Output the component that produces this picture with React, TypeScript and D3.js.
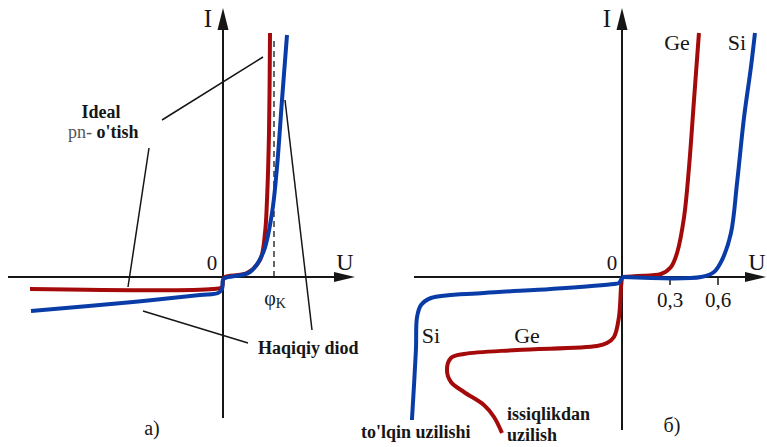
import * as d3 from "d3";

// panel a) - ideal pn junction vs real diode, [U, I]
const idealPn: [number, number][] = [
  [-1.93, -1.2], [-0.1, -1.2], [-0.01, -1.0], [0, -0.3], [0.02, 0],
  [0.24, 0.4], [0.37, 1.7], [0.42, 4.4], [0.44, 7.7], [0.46, 14.4], [0.47, 24.4],
];
const realDiode: [number, number][] = [
  [-1.92, -3.4], [-0.9, -2.5], [-0.23, -1.8], [-0.05, -1.6], [-0.01, -1.2], [0, -0.3],
  [0.02, -0.1], [0.27, 0.5], [0.4, 2.4], [0.49, 6.4], [0.54, 11.0], [0.59, 17.7], [0.64, 24.2],
];
const phiK = 0.51;
const phiKTop = 23.9;
// leader lines for the labels, [u1, i1, u2, i2]
const leadersA: [number, number, number, number][] = [
  [-0.61, 15.7, 0.4, 22.0],
  [-0.74, 12.9, -0.95, -1.0],
  [-0.8, -3.4, 0.25, -6.6],
  [0.62, 17.7, 0.89, -5.3],
];

// panel б) - Ge and Si diodes
const geForward: [number, number][] = [
  [0, 0], [0.094, 0.1], [0.244, 0.3], [0.306, 1.0], [0.344, 2.4],
  [0.388, 6.0], [0.419, 11.0], [0.45, 17.7], [0.481, 24.4],
];
const siForward: [number, number][] = [
  [0, 0], [0.494, 0], [0.575, 0.5], [0.625, 1.7], [0.681, 4.4],
  [0.719, 9.4], [0.763, 16.0], [0.806, 21.0], [0.831, 24.4],
];
const siReverse: [number, number][] = [
  [0, 0], [-0.019, -0.6], [-0.05, -0.7], [-0.444, -1.2], [-0.863, -1.6],
  [-1.194, -2.1], [-1.256, -2.8], [-1.281, -4.0], [-1.288, -7.3], [-1.313, -14.3],
];
const geReverse: [number, number][] = [
  [0, 0], [-0.006, -1.0], [-0.019, -4.0], [-0.05, -6.0], [-0.094, -6.6], [-0.156, -6.9],
  [-0.656, -7.3], [-0.988, -7.7], [-1.069, -8.1], [-1.094, -9.3], [-1.069, -10.5],
  [-0.988, -11.5], [-0.863, -12.8], [-0.8, -14.0], [-0.75, -15.6],
];
const ticksB = [0.3, 0.6];
const tickLabelsB = ["0,3", "0,6"];

const RED = "#a50a0a";
const BLUE = "#0a3ca8";
const INK = "#161616";
const SERIF = "Liberation Serif, DejaVu Serif, serif";

function Axes({ x0, x1, y0, y1, ox, oy }: { x0: number; x1: number; y0: number; y1: number; ox: number; oy: number }) {
  return (
    <g>
      <line x1={x0} y1={oy} x2={x1 - 10} y2={oy} stroke={INK} strokeWidth={2} />
      <path d={`M${x1},${oy} L${x1 - 21},${oy - 5} L${x1 - 21},${oy + 5} Z`} fill={INK} />
      <line x1={ox} y1={y1} x2={ox} y2={y0 + 10} stroke={INK} strokeWidth={2} />
      <path d={`M${ox},${y0} L${ox - 5.5},${y0 + 22} L${ox + 5.5},${y0 + 22} Z`} fill={INK} />
    </g>
  );
}

export default function App() {
  // panel a scales
  const xa = d3.scaleLinear().domain([-2.15, 1.32]).range([8, 355]);
  const ya = d3.scaleLinear().domain([-14.1, 26.7]).range([418, 10]);
  // panel b scales
  const xb = d3.scaleLinear().domain([-1.3, 0.9]).range([414, 766]);
  const yb = d3.scaleLinear().domain([-15.3, 26.7]).range([430, 10]);

  const lineA = d3.line<[number, number]>().x((d) => xa(d[0])).y((d) => ya(d[1])).curve(d3.curveCatmullRom.alpha(0.5));
  const lineB = d3.line<[number, number]>().x((d) => xb(d[0])).y((d) => yb(d[1])).curve(d3.curveCatmullRom.alpha(0.5));

  const oxA = xa(0), oyA = ya(0);
  const oxB = xb(0), oyB = yb(0);

  return (
    <svg width={767} height={447} style={{ position: "absolute", left: 0, top: 0, background: "#fff", fontFamily: SERIF }}>
      {/* ---- a) ---- */}
      <Axes x0={8} x1={355} y0={8} y1={418} ox={oxA} oy={oyA} />
      <line x1={xa(phiK)} y1={oyA} x2={xa(phiK)} y2={ya(phiKTop)} stroke={INK} strokeWidth={1.3} strokeDasharray="6,4" />
      <path d={lineA(idealPn) ?? ""} fill="none" stroke={RED} strokeWidth={4} strokeLinejoin="round" />
      <path d={lineA(realDiode) ?? ""} fill="none" stroke={BLUE} strokeWidth={4} strokeLinejoin="round" />
      {leadersA.map((l, i) => (
        <line key={i} x1={xa(l[0])} y1={ya(l[1])} x2={xa(l[2])} y2={ya(l[3])} stroke={INK} strokeWidth={1.5} />
      ))}
      <text x={208} y={27} fontSize={25} fill={INK} textAnchor="middle">I</text>
      <text x={345} y={270} fontSize={24} fill={INK} textAnchor="middle">U</text>
      <text x={212} y={270} fontSize={21} fill={INK} textAnchor="middle">0</text>
      <text x={275} y={305} fontSize={20} fill={INK} textAnchor="middle">
        φ<tspan fontSize={14} dy={3}>K</tspan>
      </text>
      <text x={101} y={118} fontSize={18} fontWeight="bold" fill={INK} textAnchor="middle">Ideal</text>
      <text x={68} y={138} fontSize={18} fill={INK}>
        <tspan fill="#555">pn- </tspan>
        <tspan fontWeight="bold">o'tish</tspan>
      </text>
      <text x={258} y={354} fontSize={18} fontWeight="bold" fill={INK}>Haqiqiy diod</text>
      <text x={152} y={435} fontSize={20} fill={INK} textAnchor="middle">a)</text>

      {/* ---- б) ---- */}
      <Axes x0={414} x1={766} y0={8} y1={430} ox={oxB} oy={oyB} />
      {ticksB.map((t, i) => (
        <g key={t}>
          <line x1={xb(t)} y1={oyB} x2={xb(t)} y2={oyB + 8} stroke={INK} strokeWidth={1.5} />
          <text x={xb(t)} y={oyB + 30} fontSize={21} fill={INK} textAnchor="middle">{tickLabelsB[i]}</text>
        </g>
      ))}
      <path d={lineB(geForward) ?? ""} fill="none" stroke={RED} strokeWidth={4} strokeLinejoin="round" />
      <path d={lineB(geReverse) ?? ""} fill="none" stroke={RED} strokeWidth={4} strokeLinejoin="round" />
      <path d={lineB(siForward) ?? ""} fill="none" stroke={BLUE} strokeWidth={4} strokeLinejoin="round" />
      <path d={lineB(siReverse) ?? ""} fill="none" stroke={BLUE} strokeWidth={4} strokeLinejoin="round" />
      <text x={607} y={27} fontSize={25} fill={INK} textAnchor="middle">I</text>
      <text x={757} y={270} fontSize={24} fill={INK} textAnchor="middle">U</text>
      <text x={612} y={270} fontSize={21} fill={INK} textAnchor="middle">0</text>
      <text x={677} y={50} fontSize={22} fill={INK} textAnchor="middle">Ge</text>
      <text x={737} y={50} fontSize={22} fill={INK} textAnchor="middle">Si</text>
      <text x={431} y={343} fontSize={22} fill={INK} textAnchor="middle">Si</text>
      <text x={527} y={343} fontSize={22} fill={INK} textAnchor="middle">Ge</text>
      <text x={361} y={438} fontSize={18} fontWeight="bold" fill={INK}>to'lqin uzilishi</text>
      <text x={507} y={420} fontSize={18} fontWeight="bold" fill={INK}>issiqlikdan</text>
      <text x={507} y={441} fontSize={18} fontWeight="bold" fill={INK}>uzilish</text>
      <text x={672} y={432} fontSize={20} fill={INK} textAnchor="middle">б)</text>
    </svg>
  );
}
